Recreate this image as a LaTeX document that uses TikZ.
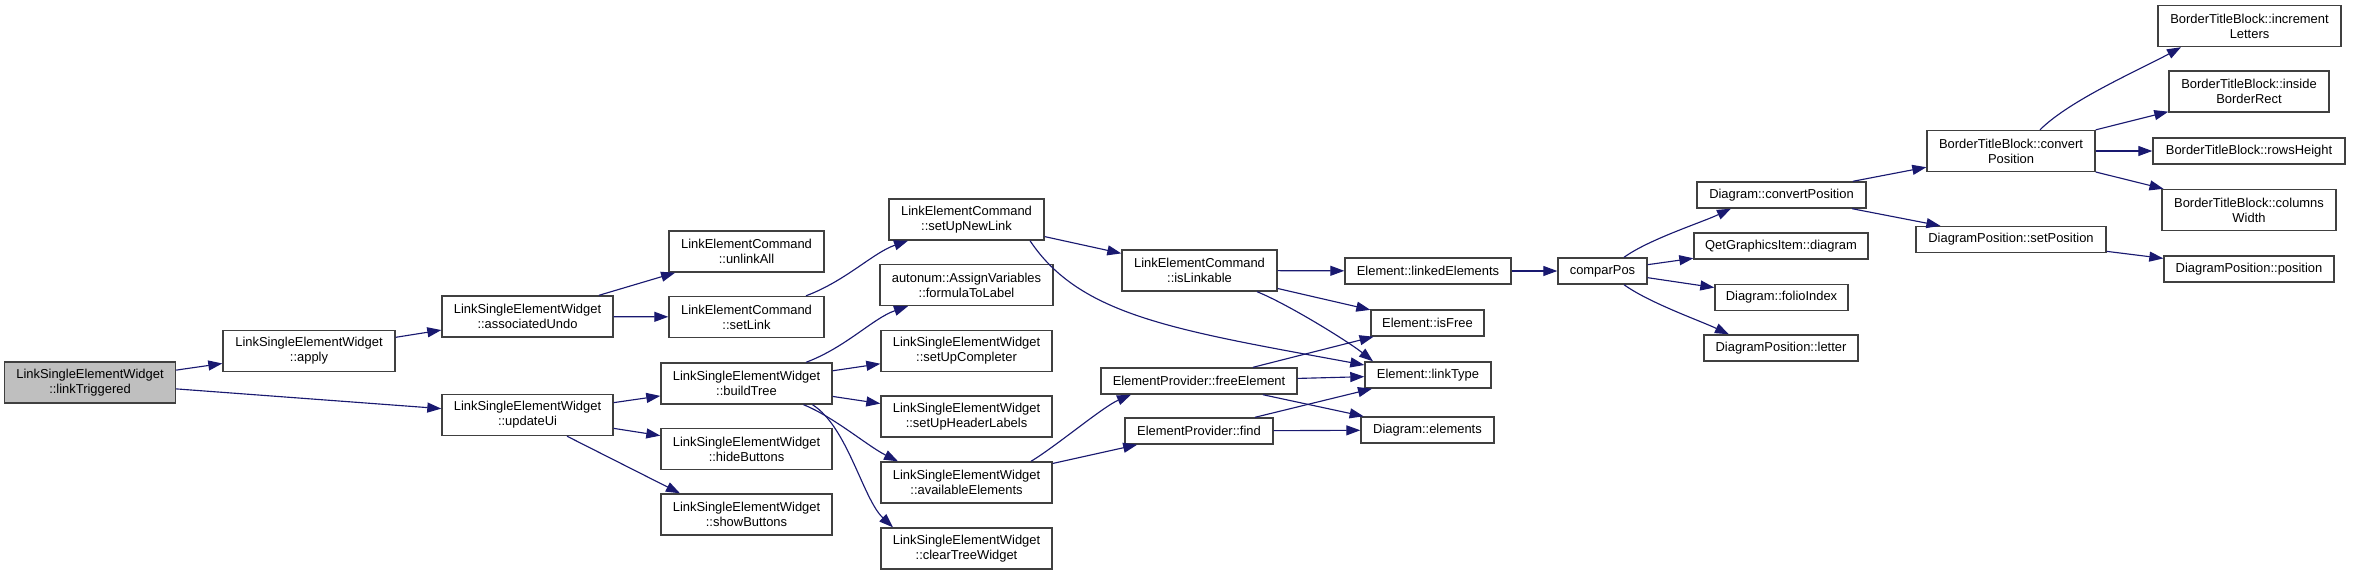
\documentclass[tikz,border=0pt]{standalone}
\usepackage{fontspec}
\setmainfont{Liberation Sans}
\usepackage{tikz}
\usetikzlibrary{arrows.meta,calc}

\definecolor{edgeblue}{HTML}{191970}
\definecolor{boxline}{HTML}{404040}
\definecolor{rootfill}{HTML}{BFBFBF}

\begin{document}
\begin{tikzpicture}[
  x=0.75pt, y=-0.75pt,
  font=\fontsize{9.7}{11.3}\selectfont,
  box/.style={draw=boxline, line width=1.05pt, fill=white, align=center, inner sep=0pt, minimum height=26*0.75pt},
  two/.style={minimum height=41*0.75pt},
  wd/.style={minimum width=#1*0.75pt},
  arr/.style={-{Triangle[length=10.5pt,width=7.5pt]}, color=edgeblue, line width=0.85pt}
]
\useasboundingbox (0,0) rectangle (2353,572);
\node[box, two, wd=171, fill=rootfill] (trig) at (90,382.5) {LinkSingleElementWidget\\::linkTriggered};
\node[box, two, wd=172] (apply) at (309,351) {LinkSingleElementWidget\\::apply};
\node[box, two, wd=171] (assoc) at (527.5,316.5) {LinkSingleElementWidget\\::associatedUndo};
\node[box, two, wd=171] (updui) at (527.5,415) {LinkSingleElementWidget\\::updateUi};
\node[box, two, wd=155] (unlink) at (746.5,251.5) {LinkElementCommand\\::unlinkAll};
\node[box, two, wd=155] (setlink) at (746.5,317) {LinkElementCommand\\::setLink};
\node[box, two, wd=171] (build) at (746.5,383.5) {LinkSingleElementWidget\\::buildTree};
\node[box, two, wd=171] (hide) at (746.5,449) {LinkSingleElementWidget\\::hideButtons};
\node[box, two, wd=171] (show) at (746.5,514.5) {LinkSingleElementWidget\\::showButtons};
\node[box, two, wd=155] (newlink) at (966.5,219.5) {LinkElementCommand\\::setUpNewLink};
\node[box, two, wd=173] (formula) at (966.5,285) {autonum::AssignVariables\\::formulaToLabel};
\node[box, two, wd=171] (compl) at (966.5,351) {LinkSingleElementWidget\\::setUpCompleter};
\node[box, two, wd=171] (header) at (966.5,416.5) {LinkSingleElementWidget\\::setUpHeaderLabels};
\node[box, two, wd=171] (avail) at (966.5,482.5) {LinkSingleElementWidget\\::availableElements};
\node[box, two, wd=171] (clear) at (966.5,548.5) {LinkSingleElementWidget\\::clearTreeWidget};
\node[box, two, wd=155] (islink) at (1199.5,270.5) {LinkElementCommand\\::isLinkable};
\node[box, wd=196] (freeel) at (1199,381) {ElementProvider::freeElement};
\node[box, wd=148] (find) at (1199,431) {ElementProvider::find};
\node[box, wd=166] (linked) at (1428,271) {Element::linkedElements};
\node[box, wd=113] (isfree) at (1427.5,323) {Element::isFree};
\node[box, wd=126] (ltype) at (1428,375) {Element::linkType};
\node[box, wd=133] (elems) at (1427.5,430) {Diagram::elements};
\node[box, wd=89] (compar) at (1602.5,271) {comparPos};
\node[box, wd=169] (dconv) at (1781.5,195) {Diagram::convertPosition};
\node[box, wd=174] (qdiag) at (1781,246) {QetGraphicsItem::diagram};
\node[box, wd=133] (folio) at (1781.5,297.5) {Diagram::folioIndex};
\node[box, wd=154] (letter) at (1781,348) {DiagramPosition::letter};
\node[box, two, wd=168] (bconv) at (2011,151) {BorderTitleBlock::convert\\Position};
\node[box, wd=190] (setpos) at (2011,239.5) {DiagramPosition::setPosition};
\node[box, two, wd=183] (incr) at (2249.5,26) {BorderTitleBlock::increment\\Letters};
\node[box, two, wd=160] (inside) at (2249,91.5) {BorderTitleBlock::inside\\BorderRect};
\node[box, wd=192] (rows) at (2249,151) {BorderTitleBlock::rowsHeight};
\node[box, two, wd=174] (cols) at (2249,210) {BorderTitleBlock::columns\\Width};
\node[box, wd=170] (pos) at (2249,269) {DiagramPosition::position};
\draw[arr] (trig) -- (apply);
\draw[arr] (trig) -- (updui);
\draw[arr] (apply) -- (assoc);
\draw[arr] (assoc) -- (unlink);
\draw[arr] (assoc) -- (setlink);
\draw[arr] (updui) -- (build);
\draw[arr] (updui) -- (hide);
\draw[arr] ($(updui.south)+(39.5,0)$) -- ($(show.north)+(-66.5,0)$);
\draw[arr] ($(setlink.north)+(59.5,0)$) .. controls +(40,-15) and +(-35,12) .. ($(newlink.south)+(-58.5,0)$);
\draw[arr] ($(build.north)+(59.5,0)$) .. controls +(40,-15) and +(-35,12) .. ($(formula.south)+(-58.5,0)$);
\draw[arr] (build) -- (compl);
\draw[arr] (build) -- (header);
\draw[arr] ($(build.south)+(57,0)$) .. controls +(30,12) and +(-30,-15) .. ($(avail.north)+(-68.5,0)$);
\draw[arr] ($(build.south)+(66,0)$) .. controls +(35,22) and +(-30,-28) .. ($(clear.north)+(-73.5,0)$);
\draw[arr] (newlink) -- (islink);
\draw[arr] ($(newlink.south)+(63.5,0)$) .. controls +(50,75) and +(-190,-35) .. ($(ltype.west)+(0,-10)$);
\draw[arr] (islink) -- (linked);
\draw[arr] (islink) -- (isfree);
\draw[arr] ($(islink.south)+(57.5,0)$) .. controls +(30,12) and +(-25,-20) .. ($(ltype.north)+(-55,0)$);
\draw[arr] ($(avail.north)+(64.5,0)$) .. controls +(25,-15) and +(-28,12) .. ($(freeel.south)+(-68,0)$);
\draw[arr] (avail) -- (find);
\draw[arr] (freeel) -- (isfree);
\draw[arr] (freeel) -- (ltype);
\draw[arr] (freeel) -- (elems);
\draw[arr] (find) -- (ltype);
\draw[arr] (find) -- (elems);
\draw[arr] (linked) -- (compar);
\draw[arr] ($(compar.north)+(21.5,0)$) .. controls +(25,-18) and +(-30,14) .. ($(dconv.south)+(-50.5,0)$);
\draw[arr] (compar) -- (qdiag);
\draw[arr] (compar) -- (folio);
\draw[arr] ($(compar.south)+(21.5,0)$) .. controls +(25,18) and +(-30,-14) .. ($(letter.north)+(-52,0)$);
\draw[arr] (dconv) -- (bconv);
\draw[arr] (dconv) -- (setpos);
\draw[arr] ($(bconv.north)+(29,0)$) .. controls +(30,-30) and +(-40,22) .. ($(incr.south)+(-68.5,0)$);
\draw[arr] (bconv) -- (inside);
\draw[arr] (bconv) -- (rows);
\draw[arr] (bconv) -- (cols);
\draw[arr] (setpos) -- (pos);
\end{tikzpicture}
\end{document}
